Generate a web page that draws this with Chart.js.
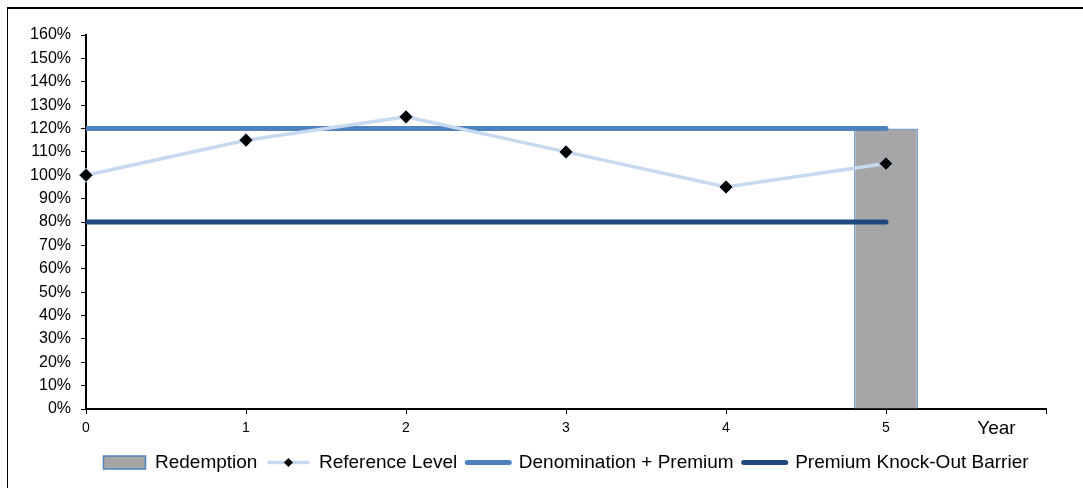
<!DOCTYPE html>
<html>
<head>
<meta charset="utf-8">
<title>Redemption chart</title>
<script src="https://cdn.jsdelivr.net/npm/chart.js@4.4.1/dist/chart.umd.min.js"></script>
<style>
    html, body { margin: 0; padding: 0; background: #ffffff; overflow: hidden; }
    #wrap { position: relative; width: 1083px; height: 488px; }
    /* рамка около графиката (вижда се само горе и вляво) */
    #frame {
        position: absolute; left: 7px; top: 7px; width: 1100px; height: 520px;
        border-left: 1px solid #000; border-top: 2px solid #000;
        pointer-events: none;
    }
    canvas { position: absolute; left: 0; top: 0; }
</style>
</head>
<body>
<div id="wrap">
    <canvas id="redemption-chart" width="1083" height="488"></canvas>
    <div id="frame"></div>
</div>
<script>
// Данни, прочетени от графиката
const years = [0, 1, 2, 3, 4, 5];
const referenceLevel = [100, 115, 125, 110, 95, 105];

const levelYears = [0, 5];
const denominationPremium = [120, 120];
const knockOutBarrier = [80, 80];

const redemptionYears = [5];
const redemptionValues = [120];

const yTicks = [0, 10, 20, 30, 40, 50, 60, 70, 80, 90, 100, 110, 120, 130, 140, 150, 160];
const xTicks = [0, 1, 2, 3, 4, 5, 6];

const seriesNames = ['Redemption', 'Reference Level', 'Denomination + Premium', 'Premium Knock-Out Barrier'];

const FONT = "'Liberation Sans', Arial, sans-serif";

// помощна функция за точки {x, y}
function toPoints(xs, ys) {
    return xs.map((x, i) => ({ x: x, y: ys[i] }));
}

// Надпис "Year" до последното деление на оста X
const yearLabelPlugin = {
    id: 'yearLabel',
    afterDraw(chart) {
        const ctx = chart.ctx;
        const x = chart.scales.x.getPixelForValue(5.69);
        const y = chart.chartArea.bottom + 20;
        ctx.save();
        ctx.font = '19px ' + FONT;
        ctx.fillStyle = '#000';
        ctx.textAlign = 'center';
        ctx.textBaseline = 'middle';
        ctx.fillText('Year', x, y);
        ctx.restore();
    }
};

// Малък ромб върху линията на "Reference Level" в легендата
const legendDiamondPlugin = {
    id: 'legendDiamond',
    afterDraw(chart) {
        const legend = chart.legend;
        if (!legend || !legend.legendHitBoxes || !legend.legendHitBoxes[1]) return;
        const box = legend.legendHitBoxes[1];
        const bw = legend.options.labels.pointStyleWidth;
        const cx = box.left + bw / 2;
        const cy = box.top + box.height / 2;
        const r = 4.5;
        const ctx = chart.ctx;
        ctx.save();
        ctx.beginPath();
        ctx.moveTo(cx - r, cy);
        ctx.lineTo(cx, cy - r);
        ctx.lineTo(cx + r, cy);
        ctx.lineTo(cx, cy + r);
        ctx.closePath();
        ctx.fillStyle = '#000';
        ctx.fill();
        ctx.restore();
    }
};

const canvas = document.getElementById('redemption-chart');

const chart = new Chart(canvas, {
    type: 'line',
    data: {
        datasets: [
            {
                type: 'line',
                label: seriesNames[2],
                data: toPoints(levelYears, denominationPremium),
                borderColor: '#4F81BD',
                borderWidth: 5,
                borderCapStyle: 'round',
                pointRadius: 0,
                pointHoverRadius: 0,
                clip: { left: 0, right: false, top: false, bottom: false },
                order: 1
            },
            {
                type: 'line',
                label: seriesNames[3],
                data: toPoints(levelYears, knockOutBarrier),
                borderColor: '#1F497D',
                borderWidth: 5,
                borderCapStyle: 'round',
                pointRadius: 0,
                pointHoverRadius: 0,
                clip: { left: 0, right: false, top: false, bottom: false },
                order: 2
            },
            {
                type: 'line',
                label: seriesNames[1],
                data: toPoints(years, referenceLevel),
                borderColor: '#C6D9F1',
                borderWidth: 3.5,
                pointStyle: 'rectRot',
                pointRadius: 7,
                pointBackgroundColor: '#000000',
                pointBorderColor: '#C6D9F1',
                pointBorderWidth: 1,
                tension: 0,
                clip: false,
                order: 0
            },
            {
                type: 'bar',
                label: seriesNames[0],
                data: toPoints(redemptionYears, redemptionValues),
                backgroundColor: '#A6A6A6',
                borderColor: '#7F9FCF',
                borderWidth: 1.5,
                categoryPercentage: 0.4,
                barPercentage: 1.0,
                order: 5
            }
        ]
    },
    options: {
        responsive: false,
        animation: false,
        devicePixelRatio: 1,
        layout: {
            padding: { left: 0, right: 37, top: 35, bottom: 6 }
        },
        scales: {
            x: {
                type: 'linear',
                min: 0,
                max: 6,
                offset: false,
                afterBuildTicks(scale) {
                    scale.ticks = xTicks.map(v => ({ value: v }));
                },
                afterFit(scale) {
                    scale.height = 34;
                },
                ticks: {
                    color: '#000',
                    font: { family: FONT, size: 14 },
                    padding: 6,
                    maxRotation: 0,
                    autoSkip: false,
                    callback: v => (v === 6 ? '' : String(v))
                },
                grid: {
                    display: true,
                    drawOnChartArea: false,
                    drawTicks: true,
                    tickLength: 5,
                    color: '#000',
                    offset: false
                },
                border: { display: true, color: '#000', width: 2 }
            },
            y: {
                min: 0,
                max: 160,
                afterBuildTicks(scale) {
                    scale.ticks = yTicks.map(v => ({ value: v }));
                },
                afterFit(scale) {
                    scale.width = 86;
                },
                ticks: {
                    color: '#000',
                    font: { family: FONT, size: 16 },
                    padding: 10,
                    autoSkip: false,
                    callback: v => v + '%'
                },
                grid: {
                    display: true,
                    drawOnChartArea: false,
                    drawTicks: true,
                    tickLength: 5,
                    color: '#000'
                },
                border: { display: true, color: '#000', width: 2 }
            }
        },
        plugins: {
            legend: {
                display: true,
                position: 'bottom',
                fullSize: false,
                labels: {
                    color: '#000',
                    font: { family: FONT, size: 19 },
                    usePointStyle: true,
                    pointStyleWidth: 42,
                    boxHeight: 13,
                    padding: 10,
                    generateLabels(chart) {
                        // Подреждаме легендата както в оригинала
                        return [
                            { text: seriesNames[0], pointStyle: 'rect', fillStyle: '#A6A6A6', strokeStyle: '#4F81BD', lineWidth: 1.5, datasetIndex: 3, fontColor: '#000' },
                            { text: seriesNames[1], pointStyle: 'line', fillStyle: '#C6D9F1', strokeStyle: '#C6D9F1', lineWidth: 3.5, datasetIndex: 2, fontColor: '#000' },
                            { text: seriesNames[2], pointStyle: 'line', fillStyle: '#4F81BD', strokeStyle: '#4F81BD', lineWidth: 5, lineCap: 'round', datasetIndex: 0, fontColor: '#000' },
                            { text: seriesNames[3], pointStyle: 'line', fillStyle: '#1F497D', strokeStyle: '#1F497D', lineWidth: 5, lineCap: 'round', datasetIndex: 1, fontColor: '#000' }
                        ];
                    }
                }
            },
            tooltip: { enabled: false }
        }
    },
    plugins: [yearLabelPlugin, legendDiamondPlugin]
});

console.log('chart area', chart.chartArea, 'legend', chart.legend.top, chart.legend.height);
</script>
</body>
</html>
